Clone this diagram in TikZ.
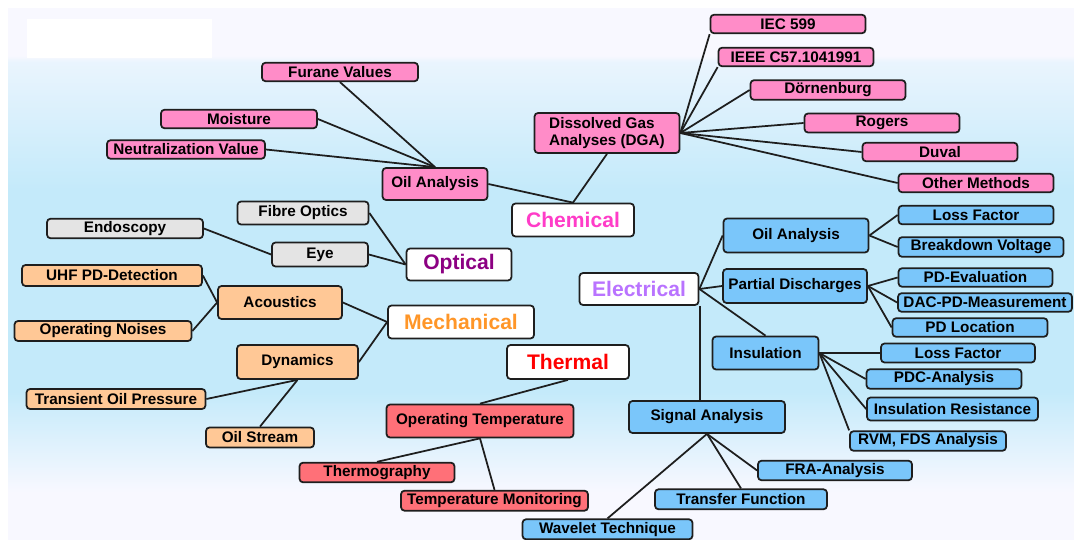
\documentclass[tikz,border=0pt]{standalone}
\usepackage{fontspec}
\setmainfont{Liberation Sans}
\definecolor{pinkfill}{RGB}{255,140,200}
\definecolor{greyfill}{RGB}{228,228,228}
\definecolor{orangefill}{RGB}{255,200,150}
\definecolor{redfill}{RGB}{255,112,120}
\definecolor{bluefill}{RGB}{122,198,250}
\definecolor{chemtext}{RGB}{255,60,200}
\definecolor{opttext}{RGB}{140,0,130}
\definecolor{mechtext}{RGB}{255,150,40}
\definecolor{thermtext}{RGB}{255,0,0}
\definecolor{electext}{RGB}{185,115,255}
\definecolor{edgegrey}{RGB}{30,30,30}
\definecolor{bgpale}{RGB}{248,248,255}
\definecolor{bgblue}{RGB}{196,234,250}
\pgfdeclareverticalshading{bgshade}{100bp}{color(0bp)=(bgpale); color(29.5bp)=(bgpale);
    color(39bp)=(bgblue); color(58bp)=(bgblue); color(70bp)=(bgpale!72!bgblue); color(70.6bp)=(bgpale); color(100bp)=(bgpale)}
\begin{document}
\begin{tikzpicture}[x=0.02cm, y=-0.02cm,
        box/.style={draw=edgegrey, line width=1pt, rounded corners=2pt, inner sep=1.5pt,
            font=\bfseries\fontsize{8.7}{9.5}\selectfont, minimum width=3.1cm, minimum height=0.37cm},
        midbox/.style={box, minimum height=0.66cm},
        catbox/.style={box, fill=white, font=\bfseries\fontsize{12}{14}\selectfont, minimum height=0.66cm},
        pinkb/.style={fill=pinkfill},
        greyb/.style={fill=greyfill},
        orangeb/.style={fill=orangefill},
        redb/.style={fill=redfill},
        blueb/.style={fill=bluefill},
        link/.style={draw=edgegrey, line width=1pt}]
    \useasboundingbox (0,0) rectangle (1074,540);
    \shade[shading=bgshade] (8,9) rectangle (1074,540);
    \fill[white] (27,19) rectangle (212,58);

    % chemical
    \node[catbox, text=chemtext, minimum width=2.44cm] (chem) at (573,220) {Chemical};
    \node[box, pinkb, minimum width=2.9cm, minimum height=0.8cm, align=left] (dga) at (607,133) {Dissolved Gas\\Analyses (DGA)};
    \node[midbox, pinkb, minimum width=2.1cm, minimum height=0.64cm] (oilC) at (435,184) {Oil Analysis};
    \node[box, pinkb, minimum width=3.12cm] (furane) at (340,72) {Furane Values};
    \node[box, pinkb, minimum width=3.12cm] (moist) at (239,119) {Moisture};
    \node[box, pinkb, minimum width=3.16cm] (neutral) at (186,149.5) {Neutralization Value};
    \node[box, pinkb] (iec) at (788,24) {IEC 599};
    \node[box, pinkb] (ieee) at (796,57) {IEEE C57.1041991};
    \node[box, pinkb] (doern) at (828,90) {Dörnenburg};
    \node[box, pinkb] (rogers) at (882,123) {Rogers};
    \node[box, pinkb] (duval) at (940,152) {Duval};
    \node[box, pinkb] (other) at (976,183) {Other Methods};

    % optical
    \node[catbox, text=opttext, minimum width=2.1cm, minimum height=0.64cm] (optical) at (459,264.5) {Optical};
    \node[box, greyb, minimum width=2.62cm, minimum height=0.46cm] (fibre) at (303,213) {Fibre Optics};
    \node[box, greyb, minimum width=1.92cm, minimum height=0.48cm] (eye) at (320,254.5) {Eye};
    \node[box, greyb, minimum width=3.12cm] (endo) at (125,228.5) {Endoscopy};

    % mechanical
    \node[catbox, text=mechtext, minimum width=2.92cm] (mech) at (461,322) {Mechanical};
    \node[midbox, orangeb, minimum width=2.48cm] (acou) at (280,302.5) {Acoustics};
    \node[midbox, orangeb, minimum width=2.42cm, minimum height=0.68cm] (dyn) at (297.5,362) {Dynamics};
    \node[box, orangeb, minimum width=3.6cm, minimum height=0.42cm] (uhf) at (112,275.5) {UHF PD-Detection};
    \node[box, orangeb, minimum width=3.54cm, minimum height=0.4cm] (noise) at (103,331) {Operating Noises};
    \node[box, orangeb, minimum width=3.58cm, minimum height=0.4cm] (transient) at (116,399) {Transient Oil Pressure};
    \node[box, orangeb, minimum width=2.16cm, minimum height=0.4cm] (stream) at (260,437.5) {Oil Stream};

    % thermal
    \node[catbox, text=thermtext, minimum width=2.44cm, minimum height=0.68cm] (thermal) at (568,362) {Thermal};
    \node[midbox, redb, minimum width=3.74cm] (optemp) at (480,421) {Operating Temperature};
    \node[box, redb] (thermo) at (377,472.5) {Thermography};
    \node[box, redb, minimum width=3.74cm, minimum height=0.4cm] (tempmon) at (494.5,500.7) {Temperature Monitoring};

    % electrical
    \node[catbox, text=electext, minimum width=2.38cm, minimum height=0.64cm] (elec) at (639,289) {Electrical};
    \node[midbox, blueb, minimum width=2.9cm, minimum height=0.68cm] (oilE) at (796,235.5) {Oil Analysis};
    \node[midbox, blueb, minimum width=2.88cm, minimum height=0.68cm] (pd) at (795,286) {Partial Discharges};
    \node[midbox, blueb, minimum width=2.12cm] (insul) at (765.5,353) {Insulation};
    \node[midbox, blueb, minimum width=3.12cm, minimum height=0.64cm] (sig) at (707,417) {Signal Analysis};
    \node[box, blueb] (lossA) at (976,215) {Loss Factor};
    \node[box, blueb, minimum width=3.3cm] (breakdown) at (981,247) {Breakdown Voltage};
    \node[box, blueb, minimum width=3.08cm] (pdeval) at (975.5,277.5) {PD-Evaluation};
    \node[box, blueb, minimum width=3.48cm] (dac) at (985,302.5) {DAC-PD-Measurement};
    \node[box, blueb] (pdloc) at (970,327.5) {PD Location};
    \node[box, blueb, minimum width=3.08cm, minimum height=0.38cm] (lossB) at (958,353) {Loss Factor};
    \node[box, blueb] (pdc) at (944,379) {PDC-Analysis};
    \node[box, blueb, minimum width=3.42cm, minimum height=0.46cm] (insres) at (952.5,409) {Insulation Resistance};
    \node[box, blueb, minimum width=3.12cm] (rvm) at (928,441) {RVM, FDS Analysis};
    \node[box, blueb, minimum width=3.08cm] (fra) at (835,470.5) {FRA-Analysis};
    \node[box, blueb, minimum width=3.44cm, minimum height=0.4cm] (transfer) at (741,499.3) {Transfer Function};
    \node[box, blueb, minimum width=3.4cm, minimum height=0.4cm] (wavelet) at (607.5,529.3) {Wavelet Technique};

    % connectors
    \draw[link] (furane.south) -- (oilC.north);
    \draw[link] (moist.east) -- (oilC.north);
    \draw[link] (neutral.east) -- (oilC.north);
    \draw[link] (oilC.east) -- (chem.north);
    \draw[link] (dga.south) -- (chem.north);
    \draw[link] (dga.east) -- (iec.south west);
    \draw[link] (dga.east) -- (ieee.south west);
    \draw[link] (dga.east) -- (doern.west);
    \draw[link] (dga.east) -- (rogers.west);
    \draw[link] (dga.east) -- (duval.west);
    \draw[link] (dga.east) -- (other.west);

    \draw[link] (fibre.east) -- (optical.west);
    \draw[link] (eye.east) -- (optical.west);
    \draw[link] (endo.east) -- (eye.west);

    \draw[link] (uhf.east) -- (acou.west);
    \draw[link] (noise.east) -- (acou.west);
    \draw[link] (acou.east) -- (mech.west);
    \draw[link] (dyn.east) -- (mech.west);
    \draw[link] (transient.east) -- (dyn.south);
    \draw[link] (stream.north) -- (dyn.south);

    \draw[link] (thermal.south) -- (optemp.north);
    \draw[link] (thermo.north) -- (optemp.south);
    \draw[link] (tempmon.north) -- (optemp.south);

    \draw[link] (elec.east) -- (oilE.west);
    \draw[link] (elec.east) -- (pd.west);
    \draw[link] (elec.east) -- (insul.north);
    \draw[link] ([xshift=0.5pt]elec.south east) -- ([xshift=0.5pt]sig.north -| elec.south east);
    \draw[link] (oilE.east) -- (lossA.west);
    \draw[link] (oilE.east) -- (breakdown.west);
    \draw[link] (pd.east) -- (pdeval.west);
    \draw[link] (pd.east) -- (dac.west);
    \draw[link] (pd.east) -- (pdloc.west);
    \draw[link] (insul.east) -- (lossB.west);
    \draw[link] (insul.east) -- (pdc.west);
    \draw[link] (insul.east) -- (insres.west);
    \draw[link] (insul.east) -- (rvm.north west);
    \draw[link] (sig.south) -- (fra.west);
    \draw[link] (sig.south) -- (transfer.north);
    \draw[link] (sig.south) -- (wavelet.north);
\end{tikzpicture}
\end{document}
